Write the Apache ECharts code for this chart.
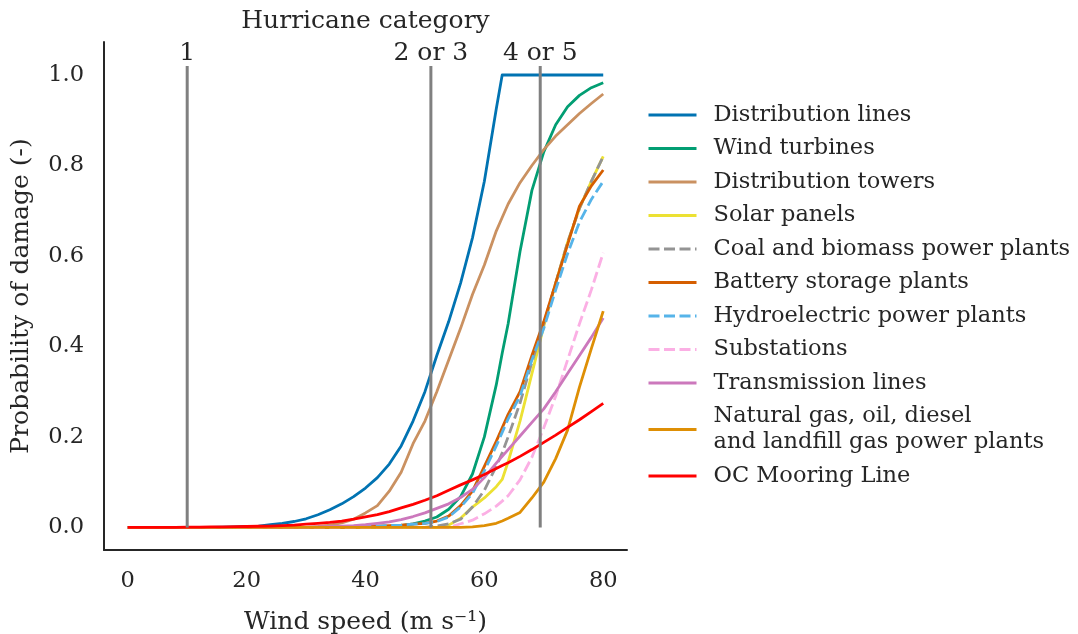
<!DOCTYPE html>
<html>
<head>
<meta charset="utf-8">
<script src="https://cdn.jsdelivr.net/npm/echarts@6/dist/echarts.min.js"></script>
<style>
html,body{margin:0;padding:0;background:#fff;}
#chart{width:1078px;height:634px;}
</style>
</head>
<body>
<div id="chart"></div>
<script>
// ---- data ----
const windSpeed = [0,2,4,6,8,10,12,14,16,18,20,22,24,26,28,30,32,34,36,38,40,42,44,46,48,50,52,54,56,58,60,62,63,64,66,68,70,72,74,76,78,80];

const distributionLines = [0,0,0,0,0,0,0,0,0.0005,0.001,0.002,0.003,0.006,0.009,0.013,0.019,0.028,0.039,0.052,0.068,0.087,0.11,0.14,0.18,0.235,0.30,0.38,0.455,0.54,0.64,0.765,0.925,1.0,1,1,1,1,1,1,1,1,1];
const windTurbines = [0,0,0,0,0,0,0,0,0,0,0,0,0,0,0,0,0,0,0,0,0,0,0.002,0.004,0.008,0.014,0.023,0.04,0.068,0.118,0.20,0.315,0.385,0.45,0.61,0.745,0.83,0.89,0.93,0.955,0.972,0.983];
const distributionTowers = [0,0,0,0,0,0,0,0,0,0,0,0,0,0,0,0,0.002,0.005,0.010,0.018,0.032,0.048,0.08,0.122,0.185,0.235,0.30,0.37,0.44,0.515,0.58,0.655,0.685,0.715,0.762,0.80,0.835,0.865,0.89,0.915,0.937,0.958];
const solarPanels = [0,0,0,0,0,0,0,0,0,0,0,0,0,0,0,0,0,0,0,0,0,0,0,0,0,0,0,0.005,0.02,0.045,0.065,0.09,0.106,0.145,0.235,0.34,0.445,0.54,0.63,0.705,0.765,0.82];
const coalBiomass = [0,0,0,0,0,0,0,0,0,0,0,0,0,0,0,0,0,0,0,0,0,0,0,0,0,0,0.003,0.008,0.018,0.045,0.082,0.135,0.165,0.20,0.275,0.365,0.45,0.54,0.63,0.705,0.765,0.82];
const batteryStorage = [0,0,0,0,0,0,0,0,0,0,0,0,0,0,0,0,0,0,0,0,0.002,0.003,0.004,0.005,0.007,0.009,0.014,0.025,0.048,0.08,0.135,0.19,0.22,0.25,0.30,0.38,0.455,0.54,0.625,0.71,0.755,0.79];
const hydroelectric = [0,0,0,0,0,0,0,0,0,0,0,0,0,0,0,0,0,0,0,0,0.002,0.003,0.004,0.005,0.007,0.009,0.013,0.023,0.045,0.075,0.125,0.18,0.21,0.24,0.29,0.37,0.44,0.525,0.605,0.675,0.725,0.765];
const substations = [0,0,0,0,0,0,0,0,0,0,0,0,0,0,0,0,0,0,0,0,0,0,0,0,0,0,0,0,0.008,0.016,0.03,0.047,0.058,0.07,0.105,0.155,0.22,0.29,0.37,0.45,0.525,0.607];
const transmissionLines = [0,0,0,0,0,0,0,0,0,0,0,0,0,0,0,0,0.001,0.002,0.003,0.004,0.006,0.009,0.012,0.017,0.024,0.032,0.042,0.052,0.066,0.084,0.11,0.142,0.157,0.172,0.202,0.232,0.262,0.30,0.34,0.38,0.42,0.463];
const naturalGas = [0,0,0,0,0,0,0,0,0,0,0,0,0,0,0,0,0,0,0,0,0,0,0,0,0,0,0,0,0,0.001,0.004,0.009,0.014,0.02,0.033,0.065,0.10,0.152,0.215,0.31,0.395,0.478];
const ocMooring = [0,0,0,0,0,0.0005,0.0005,0.001,0.001,0.0015,0.002,0.0025,0.003,0.004,0.005,0.007,0.009,0.011,0.014,0.018,0.023,0.028,0.035,0.043,0.051,0.060,0.070,0.082,0.094,0.105,0.117,0.130,0.137,0.143,0.157,0.172,0.188,0.204,0.221,0.238,0.256,0.274];

const seriesNames = ['Distribution lines','Wind turbines','Distribution towers','Solar panels','Coal and biomass power plants','Battery storage plants','Hydroelectric power plants','Substations','Transmission lines','Natural gas, oil, diesel\nand landfill gas power plants','OC Mooring Line'];
const seriesValues = [distributionLines,windTurbines,distributionTowers,solarPanels,coalBiomass,batteryStorage,hydroelectric,substations,transmissionLines,naturalGas,ocMooring];

const categoryWind = [10, 51, 69.4];
const categoryLabels = ['1', '2 or 3', '4 or 5'];
const categoryLineRange = [0, 1.02];

const xTicks = [0,20,40,60,80];
const yTicks = [0,0.2,0.4,0.6,0.8,1.0];

// ---- styles ----
const seriesColors = ['#0173b2','#029e73','#ca9161','#ece133','#949494','#d55e00','#56b4e9','#fbafe4','#cc78bc','#de8f05','#ff0000'];
const seriesDashed = [false,false,false,false,true,false,true,true,false,false,false];

const FONT = 'DejaVu Serif';
const TXT = '#262626';

const series = seriesNames.map((name, k) => ({
  name: name,
  type: 'line',
  xAxisIndex: 0,
  yAxisIndex: 0,
  symbol: 'none',
  showSymbol: false,
  animation: false,
  data: windSpeed.map((w, i) => [w, seriesValues[k][i]]),
  lineStyle: { color: seriesColors[k], width: 2.8, type: seriesDashed[k] ? [11, 4.5] : 'solid', cap: 'butt', join: 'round' },
  itemStyle: { color: seriesColors[k] },
  z: 2 + k * 0.01
}));

categoryWind.forEach((w) => {
  series.push({
    type: 'line',
    xAxisIndex: 0,
    yAxisIndex: 0,
    symbol: 'none',
    animation: false,
    silent: true,
    data: categoryLineRange.map(p => [w, p]),
    lineStyle: { color: '#808080', width: 3 },
    z: 3
  });
});

const chart = echarts.init(document.getElementById('chart'), null, { renderer: 'canvas' });
chart.setOption({
  backgroundColor: '#ffffff',
  animation: false,
  grid: { left: 104, right: 451, top: 42, bottom: 84, containLabel: false, outerBoundsMode: 'none' },
  legend: {
    data: seriesNames,
    orient: 'vertical',
    left: 642,
    top: 97,
    itemWidth: 48,
    itemHeight: 12,
    itemGap: 7.5,
    itemStyle: { opacity: 0 },
    lineStyle: { width: 3 },
    textStyle: { fontFamily: FONT, fontSize: 22.5, color: TXT, lineHeight: 26, padding: [0, 0, 0, 12] },
    selectedMode: false
  },
  xAxis: [
    {
      type: 'value',
      min: -4,
      max: 84,
      position: 'bottom',
      axisLine: { show: true, onZero: false, lineStyle: { color: TXT, width: 2 } },
      axisTick: { show: false },
      splitLine: { show: false },
      axisLabel: { customValues: xTicks, fontFamily: FONT, fontSize: 22.5, color: TXT, margin: 20 },
      name: 'Wind speed (m s\u207B\u00B9)',
      nameLocation: 'middle',
      nameGap: 60,
      nameTextStyle: { fontFamily: FONT, fontSize: 25, color: TXT }
    },
    {
      type: 'value',
      min: -4,
      max: 84,
      position: 'top',
      axisLine: { show: false },
      axisTick: { show: false },
      splitLine: { show: false },
      axisLabel: {
        inside: true,
        margin: -1,
        customValues: categoryWind,
        formatter: (v) => { const i = categoryWind.indexOf(v); return i >= 0 ? categoryLabels[i] : ''; },
        fontFamily: FONT, fontSize: 25, color: TXT
      },
      name: 'Hurricane category',
      nameLocation: 'middle',
      nameGap: 8,
      nameTextStyle: { fontFamily: FONT, fontSize: 25, color: TXT }
    }
  ],
  yAxis: {
    type: 'value',
    min: -0.05,
    max: 1.073,
    axisLine: { show: true, onZero: false, lineStyle: { color: TXT, width: 2 } },
    axisTick: { show: false },
    splitLine: { show: false },
    axisLabel: { customValues: yTicks, formatter: (v) => v.toFixed(1), fontFamily: FONT, fontSize: 22.5, color: TXT, margin: 20 },
    name: 'Probability of damage (-)',
    nameLocation: 'middle',
    nameGap: 70,
    nameTextStyle: { fontFamily: FONT, fontSize: 25, color: TXT }
  },
  series: series
});
</script>
</body>
</html>
